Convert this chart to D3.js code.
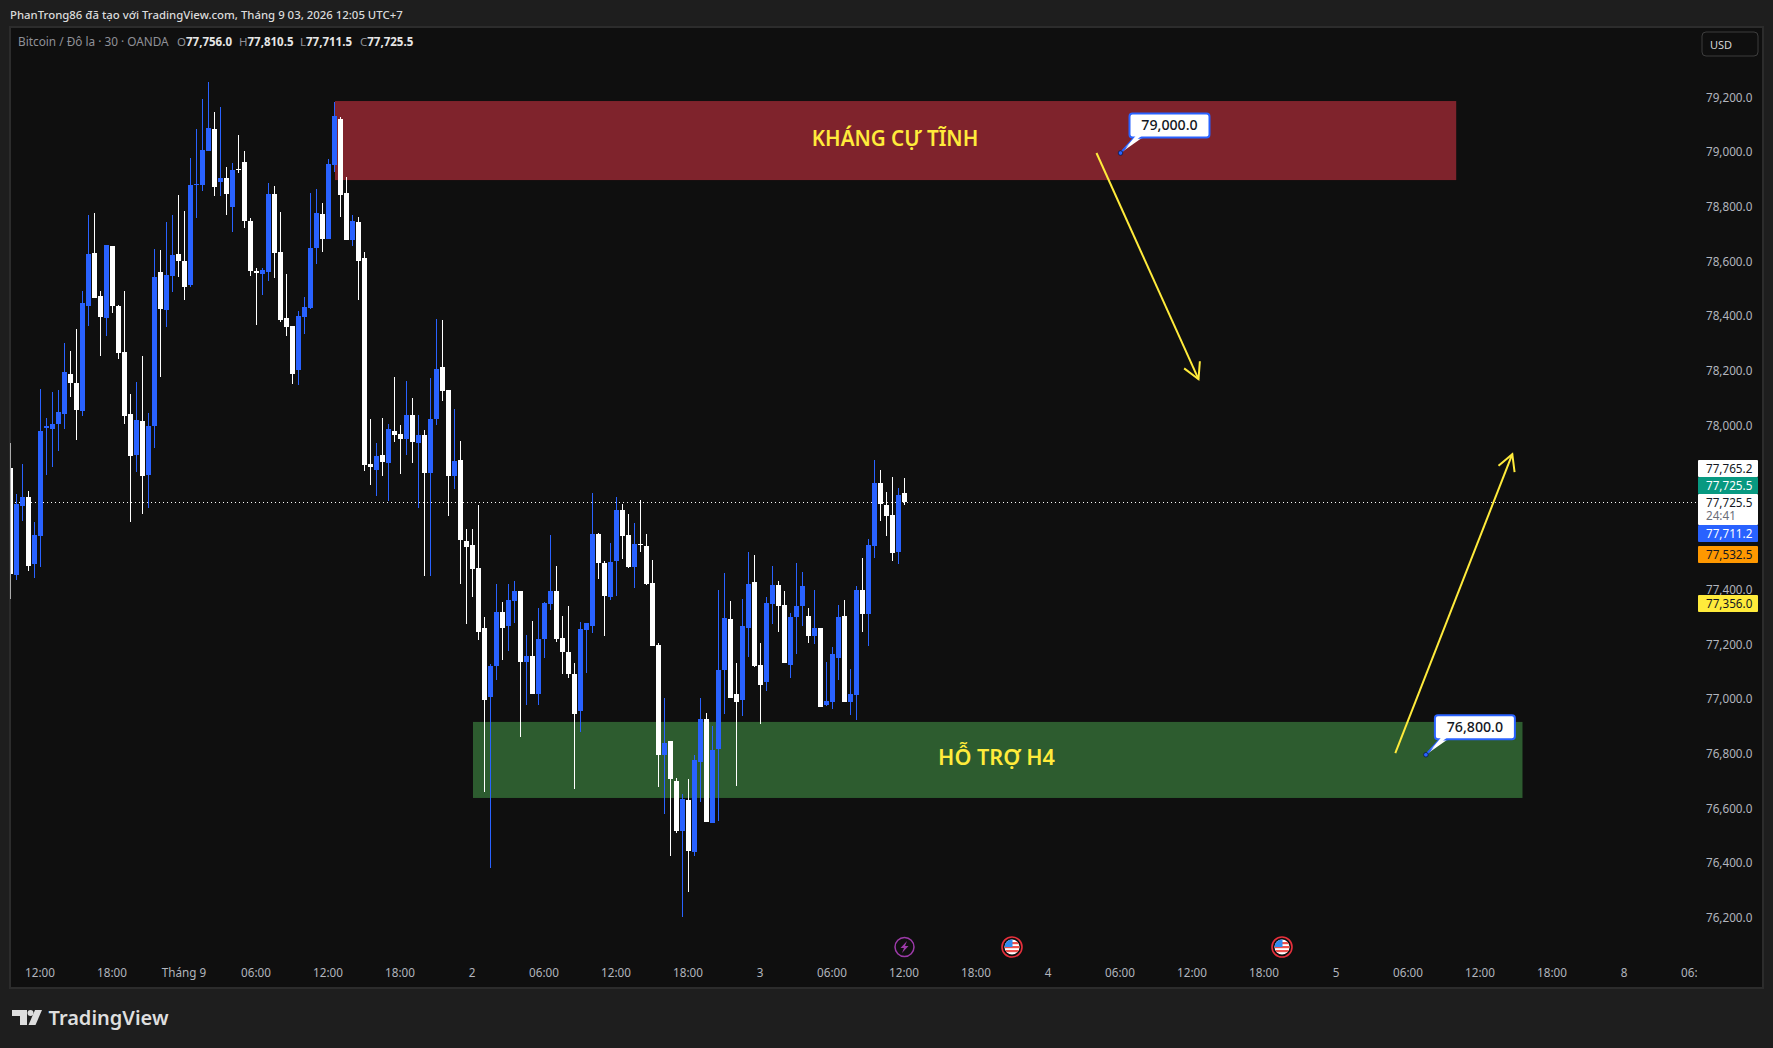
<!DOCTYPE html>
<html><head><meta charset="utf-8">
<script src="https://cdn.jsdelivr.net/npm/d3@7"></script>
<style>
html,body{margin:0;padding:0;background:#1e1e1e;overflow:hidden}
svg{display:block}
text{font-family:"Noto Sans",sans-serif}
</style></head><body><div id="chart"></div>
<script>
const opens=[77848,77457,77709,77742,77497,77599,77994,77990,78008,78045,
78191,78159,78056,78440,78634,78477,78397,78659,78440,78272,
78045,77896,78019,77823,78001,78565,78426,78550,78630,78604,
78517,78883,78883,79007,79087,78894,78908,78802,78941,78966,
78751,78568,78557,78565,78849,78638,78397,78367,78206,78400,
78433,78652,78777,78685,78956,79124,78853,78681,78748,78616,
77862,77841,77896,77866,77983,77972,77954,78042,77939,77968,
77830,78027,78217,78133,77819,77877,77581,77567,77482,77263,
77011,77124,77321,77270,77362,77398,77139,77161,77022,77223,
77351,77398,77227,77175,77095,76960,77256,77270,77607,77501,
77376,77508,77694,77603,77486,77570,77563,77428,77201,76799,
76850,76704,76521,76634,76444,76773,76930,76550,76821,77109,
77296,77022,77000,77263,77431,77128,77066,77351,77420,77347,
77128,77303,77343,77307,77234,77263,76982,76993,77153,77307,
76993,77018,77402,77314,77563,77793,77713,77676,77541,77756];
const closes=[77460,77716,77742,77490,77603,77983,78001,78008,78053,78199,
78159,78060,78451,78630,78470,78400,78663,78440,78268,78038,
77892,78023,77819,78001,78546,78429,78554,78627,78604,78509,
78883,78887,79011,79091,78875,78908,78849,78937,78937,78751,
78568,78561,78572,78849,78634,78389,78363,78191,78404,78437,
78652,78780,78685,78959,79135,78846,78681,78751,78604,77859,
77851,77892,77870,77990,77968,77954,78042,77943,77968,77830,
78027,78210,78129,77819,77873,77585,77559,77479,77248,77000,
77124,77321,77263,77365,77398,77139,77161,77022,77223,77354,
77398,77223,77175,77095,76949,77259,77281,77607,77501,77380,
77504,77694,77599,77486,77570,77567,77424,77197,76799,76843,
76711,76521,76638,76448,76780,76930,76554,76817,77109,77300,
77007,76993,77270,77424,77124,77055,77354,77420,77343,77135,
77303,77343,77417,77234,77263,76974,76996,77168,77303,76993,
77022,77402,77314,77567,77793,77716,77672,77537,77749,77725.5];
const highs=[77939,77753,77862,77764,77651,78137,78031,78126,78133,78305,
78275,78356,78495,78773,78780,78495,78663,78659,78444,78495,
78118,78163,78257,78049,78648,78645,78748,78773,78846,78787,
78982,79087,79197,79259,79150,79167,78948,78963,79066,79007,
78762,78579,78579,78890,78879,78784,78557,78367,78422,78473,
78853,78868,78817,78978,79186,79131,78912,78773,78766,78638,
78027,77939,78031,78008,78180,78005,78166,78104,78042,77987,
78177,78393,78389,78133,78064,77947,77625,77625,77713,77303,
77132,77424,77358,77424,77435,77398,77237,77289,77336,77358,
77603,77490,77307,77343,77135,77285,77281,77757,77611,77508,
77574,77742,77716,77680,77647,77731,77607,77512,77208,77007,
76850,76715,76656,76711,76799,77007,76952,76905,77402,77464,
77362,77135,77369,77541,77530,77208,77376,77490,77435,77398,
77318,77501,77468,77336,77402,77263,77139,77194,77347,77365,
77113,77417,77519,77588,77877,77840,77760,77815,77775,77810.5];
const lows=[77369,77439,77654,77471,77446,77486,77823,77851,77910,77990,
78107,77950,78038,78367,78470,78257,78331,78415,78246,78008,
77651,77834,77679,77702,77921,78180,78363,78492,78546,78462,
78509,78762,78860,79007,78842,78842,78773,78711,78926,78725,
78550,78371,78481,78532,78543,78382,78331,78155,78150,78338,
78429,78594,78638,78685,78930,78766,78681,78659,78462,77837,
77786,77746,77819,77727,77943,77826,77896,77866,77702,77453,
77453,78005,78093,77672,77771,77424,77277,77376,77219,76664,
76386,77073,77146,77179,77281,76864,76982,77022,76982,77153,
77329,77212,77095,77080,76675,76883,77099,77245,77442,77234,
77365,77380,77515,77482,77409,77541,77420,77197,76682,76583,
76430,76513,76206,76298,76430,76627,76554,76550,76558,76949,
77007,76685,76941,77157,77120,76912,77033,77278,77248,77135,
77080,77168,77270,77208,77205,76974,76978,76967,77073,76993,
76945,76927,77248,77197,77519,77654,77599,77508,77497,77711.5];
const priceTicks=[79200,79000,78800,78600,78400,78200,78000,77800,77600,77400,77200,77000,76800,76600,76400,76200];
const timeLabels=["12:00","18:00","Tháng 9","06:00","12:00","18:00","2","06:00","12:00","18:00","3","06:00","12:00","18:00","4","06:00","12:00","18:00","5","06:00","12:00","18:00","8","06:00"];
const timeSlots=[5,17,29,41,53,65,77,89,101,113,125,137,149,161,173,185,197,209,221,233,245,257,269,281];
const zoneNames=["KHÁNG CỰ TĨNH","HỖ TRỢ H4"];
const zoneFrom=[54.08,77.08];
const zoneTo=[240.95,252];
const zoneTop=[79190,76920];
const zoneBottom=[78901,76642];
const zoneFill=["#7f232c","#2d5c2f"];
const arrowFromSlot=[181,230.8];
const arrowFromPrice=[79000,76806];
const arrowToSlot=[198,250.3];
const arrowToPrice=[78173,77899];
const calloutSlot=[185,235.9];
const calloutPrice=[79000,76800];
const lastPrice=77725.5;
const priceTags=[
 ["77,765.2",460,477,"#ffffff","#131722"],
 ["77,725.5",477,494,"#089981","#ffffff"],
 ["77,725.5",494,525,"#ffffff","#131722"],
 ["77,711.2",525,542,"#2962ff","#ffffff"],
 ["77,532.5",546,563,"#ff9800","#131722"],
 ["77,356.0",595,612,"#ffeb3b","#131722"]];
const eventSlots=[149,167,212];

const W=1773,H=1048;
const chartL=11,chartR=1697,chartT=28,chartB=987;
const x=d3.scaleLinear().domain([0,1]).range([10.5,16.5]);
const y=d3.scaleLinear().domain([79000,77000]).range([153,700.05]);
const fmt=d3.format(",.1f");
const svg=d3.select("#chart").append("svg").attr("width",W).attr("height",H);
const defs=svg.append("defs");
defs.append("clipPath").attr("id","pane").append("rect").attr("x",chartL).attr("y",chartT).attr("width",chartR-chartL).attr("height",chartB-chartT);
defs.append("clipPath").attr("id","flag").append("circle").attr("r",7.5);

svg.append("rect").attr("width",W).attr("height",H).attr("fill","#1e1e1e");
svg.append("rect").attr("x",9).attr("y",26).attr("width",1755).attr("height",963).attr("fill","#2c2c2c");
svg.append("rect").attr("x",chartL).attr("y",chartT).attr("width",1751).attr("height",chartB-chartT).attr("fill","#0f0f0f");

// zones
const pane=svg.append("g").attr("clip-path","url(#pane)");
pane.selectAll("rect.zone").data(zoneNames).join("rect").attr("class","zone")
 .attr("x",(d,i)=>x(zoneFrom[i])).attr("width",(d,i)=>x(zoneTo[i])-x(zoneFrom[i]))
 .attr("y",(d,i)=>y(zoneTop[i])).attr("height",(d,i)=>y(zoneBottom[i])-y(zoneTop[i]))
 .attr("fill",(d,i)=>zoneFill[i]);
// last price line
pane.append("line").attr("x1",chartL).attr("x2",chartR-1).attr("y1",Math.round(y(lastPrice))+.5).attr("y2",Math.round(y(lastPrice))+.5)
 .attr("stroke","#ffffff").attr("stroke-dasharray","1 3");

// candles
const idx=d3.range(opens.length);
const up=i=>closes[i]>=opens[i];
const col=i=>up(i)?"#2962ff":"#ffffff";
svg.append("g").attr("shape-rendering","crispEdges").selectAll("rect").data(idx).join("rect")
 .attr("x",i=>x(i)-.5).attr("width",1)
 .attr("y",i=>y(highs[i])).attr("height",i=>Math.max(1,y(lows[i])-y(highs[i])))
 .attr("fill",col);
svg.append("rect").attr("x",10).attr("y",26).attr("width",1).attr("height",963).attr("fill","#2c2c2c").attr("opacity",.4);
pane.append("g").attr("shape-rendering","crispEdges").selectAll("rect").data(idx).join("rect")
 .attr("x",i=>x(i)-2.5).attr("width",5)
 .attr("y",i=>y(Math.max(opens[i],closes[i]))).attr("height",i=>Math.max(1,Math.abs(y(opens[i])-y(closes[i]))))
 .attr("fill",col);

// zone labels
svg.selectAll("text.zl").data(zoneNames).join("text").attr("class","zl")
 .attr("x",(d,i)=>i==0?895:996.5)
 .attr("y",(d,i)=>(y(zoneTop[i])+y(zoneBottom[i]))/2+5.5)
 .attr("text-anchor","middle").attr("font-size",(d,i)=>i==0?20.6:21.6).attr("font-weight",600).attr("fill","#ffeb3b").text(d=>d);

// arrows
arrowFromSlot.forEach((s,i)=>{
 const x1=x(s),y1=y(arrowFromPrice[i]),x2=x(arrowToSlot[i]),y2=y(arrowToPrice[i]);
 const a=Math.atan2(y2-y1,x2-x1),L=18,sp=.5;
 svg.append("path").attr("fill","none").attr("stroke","#ffeb3b").attr("stroke-width",2)
  .attr("d",d3.line()([[x1,y1],[x2,y2]]));
 svg.append("path").attr("fill","none").attr("stroke","#ffeb3b").attr("stroke-width",2)
  .attr("d",d3.line()([[x2-L*Math.cos(a-sp),y2-L*Math.sin(a-sp)],[x2,y2],[x2-L*Math.cos(a+sp),y2-L*Math.sin(a+sp)]]));
});

// callouts
calloutSlot.forEach((s,i)=>{
 const px=x(s),py=y(calloutPrice[i]);
 const bx=px+9,by=py-39.5,bw=80,bh=24;
 svg.append("path").attr("fill","#ffffff").attr("stroke","#2962ff").attr("stroke-width",2).attr("stroke-linejoin","round")
  .attr("d",d3.line()([[px,py],[bx+5,by+bh],[bx+13,by+bh]]));
 svg.append("rect").attr("x",bx).attr("y",by).attr("width",bw).attr("height",bh).attr("rx",3)
  .attr("fill","#ffffff").attr("stroke","#2962ff").attr("stroke-width",2);
 svg.append("path").attr("fill","#ffffff").attr("d",d3.line()([[px+5,py-5],[bx+6,by+bh-1.5],[bx+12,by+bh-1.5]]));
 svg.append("text").attr("x",bx+bw/2).attr("y",by+16.5).attr("text-anchor","middle").attr("font-size",14.2).attr("font-weight",500).attr("fill","#131722").text(fmt(calloutPrice[i]));
 svg.append("circle").attr("cx",px).attr("cy",py).attr("r",2.3).attr("fill","#2962ff").attr("stroke","#0b1a40").attr("stroke-width",.8);
});

// price axis
const yAxis=d3.axisRight(y).tickValues(priceTicks).tickFormat(fmt).tickSize(0).tickPadding(0);
const ya=svg.append("g").attr("transform","translate(1706,-1)").call(yAxis);
ya.select(".domain").remove();
ya.selectAll("text").attr("font-size",11.7).attr("fill","#b2b5be").attr("font-family",'"Noto Sans",sans-serif');
// time axis
const xAxis=d3.axisBottom(x).tickValues(timeSlots).tickFormat((d,i)=>timeLabels[i]).tickSize(0).tickPadding(0);
svg.append("g").attr("clip-path","url(#pane)").append("g").attr("transform","translate(-1,968.5)").call(xAxis)
 .call(g=>g.select(".domain").remove())
 .selectAll("text").attr("font-size",11.7).attr("fill","#b2b5be").attr("font-family",'"Noto Sans",sans-serif');

// price tags
priceTags.forEach(t=>{
 svg.append("rect").attr("x",1698).attr("width",60).attr("y",t[1]).attr("height",t[2]-t[1]).attr("rx",1).attr("fill",t[3]);
 svg.append("text").attr("x",1706).attr("y",t[1]+12.5).attr("font-size",11.7).attr("fill",t[4]).text(t[0]);
});
svg.append("text").attr("x",1706).attr("y",520).attr("font-size",11.7).attr("fill","#6a6d78").text("24:41");

// events
svg.append("g").attr("transform",`translate(${x(eventSlots[0])},947)`).call(g=>{
 g.append("circle").attr("r",9.5).attr("fill","none").attr("stroke","#9c3aa8").attr("stroke-width",1.5);
 g.append("path").attr("fill","#9c3aa8").attr("d","M2.5-6 L-4 1 L-0.5 1 L-2.5 6 L4-1 L0.5-1 Z");
});
eventSlots.slice(1).forEach(s=>{
 const g=svg.append("g").attr("transform",`translate(${x(s)-.5},947)`);
 g.append("circle").attr("r",10).attr("fill","#0f0f0f").attr("stroke","#e8303c").attr("stroke-width",1.6);
 const f=g.append("g").attr("clip-path","url(#flag)");
 f.append("rect").attr("x",-8).attr("y",-8).attr("width",16).attr("height",16).attr("fill","#ffffff");
 [[-5],[-1],[3]].forEach(r=>f.append("rect").attr("x",-8).attr("y",r[0]).attr("width",16).attr("height",2.2).attr("fill","#ef5350"));
 f.append("rect").attr("x",-8).attr("y",-8).attr("width",8.5).attr("height",8).attr("fill","#2f8cf0");
});

// header
svg.append("text").attr("x",10).attr("y",19).attr("font-size",11.4).attr("font-weight",500).attr("fill","#dbdbdb").text("PhanTrong86 đã tạo với TradingView.com, Tháng 9 03, 2026 12:05 UTC+7");
svg.append("text").attr("x",18).attr("y",46).attr("font-size",11.8).attr("fill","#8f9198").text("Bitcoin / Đô la · 30 · OANDA");
const ohlcLetters=["O","H","L","C"];
const ohlcValues=[opens[149],highs[149],lows[149],closes[149]];
const ohlcX=[177,239,300,360];
ohlcLetters.forEach((l,i)=>{
 const t=svg.append("text").attr("x",ohlcX[i]).attr("y",46).attr("font-size",11.5);
 t.append("tspan").attr("fill","#8f9198").text(l);
 t.append("tspan").attr("fill","#e6e6e6").attr("font-weight",700).text(fmt(ohlcValues[i]));
});
// USD
svg.append("rect").attr("x",1702).attr("y",32).attr("width",56).attr("height",24).attr("rx",4).attr("fill","#0f0f0f").attr("stroke","#3d3d3d");
svg.append("text").attr("x",1710).attr("y",48.5).attr("font-size",11).attr("fill","#d4d4d4").text("USD");
// logo
const logo=svg.append("g").attr("fill","#dedede");
logo.append("path").attr("d","M12 1010H27V1025H20V1016H12Z");
logo.append("circle").attr("cx",30.5).attr("cy",1013).attr("r",3);
logo.append("path").attr("d","M35 1010H42L35.5 1025H28.5Z");
logo.append("text").attr("x",48.5).attr("y",1025).attr("font-size",20).attr("font-weight",600).attr("fill","#dedede").text("TradingView");
</script></body></html>
